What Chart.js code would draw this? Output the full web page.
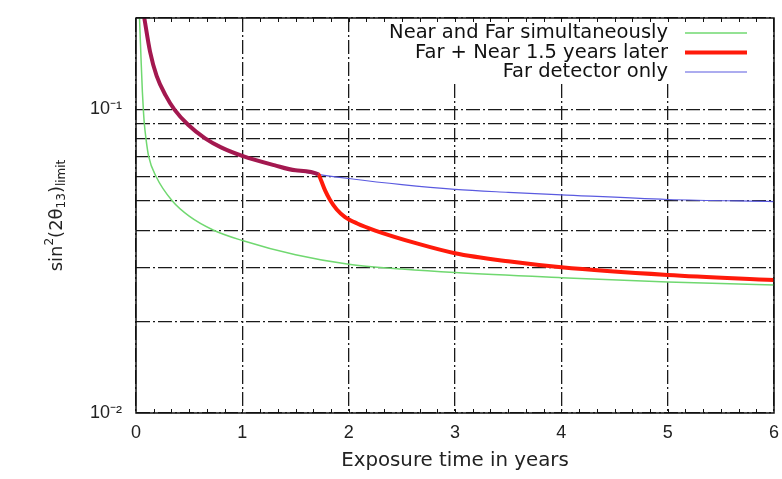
<!DOCTYPE html>
<html>
<head>
<meta charset="utf-8">
<script src="https://cdn.jsdelivr.net/npm/chart.js@4.4.1/dist/chart.umd.min.js"></script>
<style>
	html, body { margin: 0; padding: 0; background: #fff; }
</style>
</head>
<body>
<canvas id="graficoSensibilidade" width="782" height="479"></canvas>
<script>
/* sin^2(2theta13) limit vs exposure time */
var nearFarX = [0.033, 0.047, 0.06, 0.069, 0.078, 0.094, 0.119, 0.19, 0.34, 0.5, 0.73, 1, 1.5, 2, 2.5, 3, 4, 5, 6];
var nearFarY = [0.2, 0.148, 0.1144, 0.1, 0.09, 0.08, 0.07, 0.06, 0.05, 0.0445, 0.04, 0.037, 0.0332, 0.0309, 0.0298, 0.029, 0.0279, 0.027, 0.0264];

var farNearLaterX = [0.078, 0.132, 0.194, 0.28, 0.36, 0.49, 0.65, 0.8, 1, 1.3, 1.5, 1.715, 1.74, 1.778, 1.825, 1.888, 1.966, 2.08, 2.25, 2.64, 3, 3.5, 4, 5, 6];
var farNearLaterY = [0.2, 0.155, 0.129, 0.111, 0.1, 0.089, 0.0803, 0.075, 0.0703, 0.0655, 0.063, 0.0611, 0.0584, 0.0541, 0.0503, 0.0468, 0.0442, 0.0421, 0.0399, 0.0362, 0.0336, 0.0316, 0.0302, 0.0285, 0.0274];

var farOnlyX = [0.078, 0.132, 0.194, 0.28, 0.36, 0.49, 0.65, 0.8, 1, 1.3, 1.5, 1.715, 2, 2.5, 3, 3.5, 4, 5, 6];
var farOnlyY = [0.2, 0.155, 0.129, 0.111, 0.1, 0.089, 0.0803, 0.075, 0.0703, 0.0655, 0.063, 0.0611, 0.0592, 0.0565, 0.0545, 0.0533, 0.0523, 0.0505, 0.0497];

// year where the near detector joins (red curve leaves the blue one)
var nearStartYear = 1.715;

var seriesLabels = ['Near and Far simultaneously', 'Far + Near 1.5 years later', 'Far detector only'];

var yTicks = [0.01, 0.02, 0.03, 0.04, 0.05, 0.06, 0.07, 0.08, 0.09, 0.1, 0.2];
var yTickLabels = { '0.01': '10⁻²', '0.1': '10⁻¹' };
var xMinorStep = 1 / 6;

var gridDash = [14, 3, 2, 3];
var textFont = '"DejaVu Sans", sans-serif';

function toPoints(xs, ys) {
	return xs.map(function(x, i) { return { x: x, y: ys[i] }; });
}

/* frame, minor ticks, key and y title (gnuplot look) */
var gnuplotExtras = {
	id: 'gnuplotExtras',
	beforeDatasetsDraw: function(chart) {
		var ctx = chart.ctx, area = chart.chartArea;
		var key = keyLayout(chart);
		ctx.save();
		ctx.fillStyle = '#fff';
		ctx.fillRect(key.boxLeft, area.top + 1, area.right - 1 - key.boxLeft, key.boxBottom - area.top - 1);
		ctx.restore();
	},
	afterDraw: function(chart) {
		var ctx = chart.ctx, area = chart.chartArea;
		var xScale = chart.scales.x;

		ctx.save();
		// minor ticks on top and bottom border
		ctx.strokeStyle = '#111';
		ctx.lineWidth = 1;
		ctx.beginPath();
		for (var v = xScale.min + xMinorStep; v < xScale.max - 1e-6; v += xMinorStep) {
			var px = Math.round(xScale.getPixelForValue(v)) + 0.5;
			ctx.moveTo(px, area.bottom);
			ctx.lineTo(px, area.bottom - 4);
			ctx.moveTo(px, area.top);
			ctx.lineTo(px, area.top + 4);
		}
		ctx.stroke();

		// frame
		ctx.lineWidth = 1.5;
		ctx.strokeRect(area.left, area.top, area.right - area.left, area.bottom - area.top);

		// key
		var key = keyLayout(chart);
		ctx.font = key.font;
		ctx.textAlign = 'right';
		ctx.textBaseline = 'middle';
		chart.data.datasets.forEach(function(ds, i) {
			var y = key.rowY[i];
			ctx.fillStyle = '#111';
			ctx.fillText(ds.label, key.textRight, y);
			ctx.strokeStyle = ds.borderColor;
			ctx.lineWidth = ds.borderWidth;
			ctx.beginPath();
			ctx.moveTo(key.sampleLeft, y);
			ctx.lineTo(key.sampleRight, y);
			ctx.stroke();
		});
		ctx.restore();

		drawYTitle(chart);
	}
};

function keyLayout(chart) {
	var ctx = chart.ctx, area = chart.chartArea;
	var font = '19.5px ' + textFont;
	var sampleRight = area.right - 27;
	var sampleLeft = sampleRight - 62;
	var textRight = sampleLeft - 17;
	ctx.save();
	ctx.font = font;
	var widest = 0;
	chart.data.datasets.forEach(function(ds) {
		widest = Math.max(widest, ctx.measureText(ds.label).width);
	});
	ctx.restore();
	var rowY = [area.top + 15, area.top + 34.5, area.top + 54];
	return {
		font: font,
		sampleLeft: sampleLeft,
		sampleRight: sampleRight,
		textRight: textRight,
		rowY: rowY,
		boxLeft: textRight - widest - 8,
		boxBottom: rowY[2] + 9
	};
}

function drawYTitle(chart) {
	var ctx = chart.ctx, area = chart.chartArea;
	var partes = [
		{ t: 'sin', size: 18, dy: 0 },
		{ t: '2', size: 12, dy: -7 },
		{ t: '(2θ', size: 18, dy: 0 },
		{ t: '13', size: 12, dy: 5 },
		{ t: ')', size: 18, dy: 0 },
		{ t: 'limit', size: 12, dy: 5 }
	];
	ctx.save();
	ctx.translate(area.left - 79, (area.top + area.bottom) / 2);
	ctx.rotate(-Math.PI / 2);
	ctx.fillStyle = '#222';
	ctx.textAlign = 'left';
	ctx.textBaseline = 'middle';
	var total = 0;
	partes.forEach(function(p) {
		ctx.font = p.size + 'px ' + textFont;
		p.w = ctx.measureText(p.t).width;
		total += p.w;
	});
	var x = -total / 2;
	partes.forEach(function(p) {
		ctx.font = p.size + 'px ' + textFont;
		ctx.fillText(p.t, x, p.dy);
		x += p.w;
	});
	ctx.restore();
}

var ctx = document.getElementById('graficoSensibilidade').getContext('2d');

var grafico = new Chart(ctx, {
	type: 'line',
	data: {
		datasets: [{
			label: seriesLabels[0],
			data: toPoints(nearFarX, nearFarY),
			borderColor: '#70d870',
			borderWidth: 1.5,
			order: 2
		}, {
			label: seriesLabels[1],
			data: toPoints(farNearLaterX, farNearLaterY),
			borderColor: '#ff1a0a',
			borderWidth: 4,
			order: 0,
			segment: {
				borderColor: function(c) {
					return c.p1.parsed.x <= nearStartYear ? '#a3184f' : undefined;
				}
			}
		}, {
			label: seriesLabels[2],
			data: toPoints(farOnlyX, farOnlyY),
			borderColor: '#5a5ae0',
			borderWidth: 1.2,
			order: 1
		}]
	},
	options: {
		responsive: false,
		animation: false,
		layout: { padding: { top: 18, right: 8, left: 0, bottom: 0 } },
		elements: {
			point: { radius: 0 },
			line: { cubicInterpolationMode: 'monotone', fill: false }
		},
		plugins: {
			legend: { display: false },
			tooltip: { enabled: false }
		},
		scales: {
			x: {
				type: 'linear',
				min: 0,
				max: 6,
				ticks: {
					stepSize: 1,
					padding: 9,
					color: '#222',
					font: { family: 'Liberation Sans', size: 18 }
				},
				grid: { color: '#1a1a1a', lineWidth: 1.3, drawTicks: false },
				border: { display: false, dash: gridDash },
				title: {
					display: true,
					text: 'Exposure time in years',
					color: '#222',
					font: { family: 'DejaVu Sans', size: 19.8 },
					padding: 6
				},
				afterFit: function(scale) {
					scale.height = 66;
					scale.paddingLeft = 0;
					scale.paddingRight = 0;
				}
			},
			y: {
				type: 'logarithmic',
				min: 0.01,
				max: 0.2,
				afterBuildTicks: function(scale) {
					scale.ticks = yTicks.map(function(v) { return { value: v }; });
				},
				ticks: {
					autoSkip: false,
					padding: 14,
					color: '#222',
					font: { family: 'Liberation Sans', size: 18 },
					callback: function(value) {
						return yTickLabels[String(value)] || '';
					}
				},
				grid: { color: '#1a1a1a', lineWidth: 1.3, drawTicks: false },
				border: { display: false, dash: gridDash },
				afterFit: function(scale) {
					scale.width = 136;
					scale.paddingTop = 0;
					scale.paddingBottom = 0;
				}
			}
		}
	},
	plugins: [gnuplotExtras]
});
</script>
</body>
</html>
